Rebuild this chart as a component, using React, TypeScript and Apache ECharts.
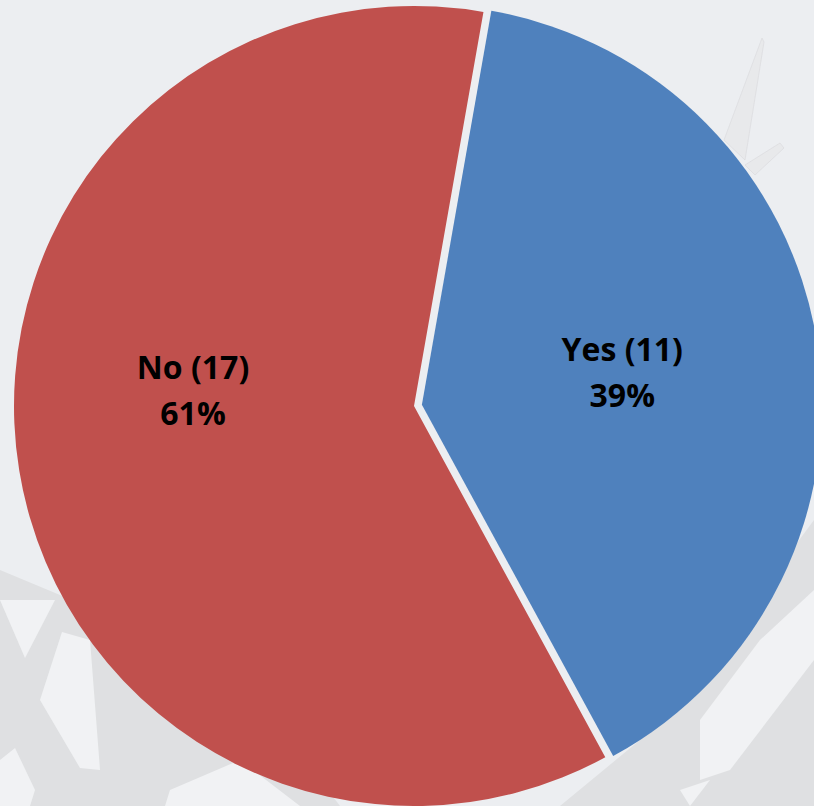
import React, { useEffect, useRef } from "react";
import * as echarts from "echarts";

const categories = ["Yes", "No"];
const counts = [11, 17];
const colors = ["#4F81BD", "#C0504D"];

export default function App() {
  const ref = useRef<HTMLDivElement>(null);
  useEffect(() => {
    if (!ref.current) return;
    const chart = echarts.init(ref.current, null, { renderer: "svg" });
    const labelPos: Record<number, [number, number]> = { 0: [652, 369], 1: [193, 389] };
    const bgDark = "#dfe0e2";
    const bgLight = "#f1f2f4";
    chart.setOption({
      animation: false,
      backgroundColor: "#eceef1",
      graphic: [
        { type: "polygon", silent: true, z: -10, shape: { points: [[0, 570], [120, 620], [260, 700], [340, 806], [0, 806]] }, style: { fill: bgDark } },
        { type: "polygon", silent: true, z: -9, shape: { points: [[0, 600], [55, 600], [25, 658]] }, style: { fill: bgLight } },
        { type: "polygon", silent: true, z: -9, shape: { points: [[62, 632], [90, 640], [100, 770], [80, 768], [40, 700]] }, style: { fill: bgLight } },
        { type: "polygon", silent: true, z: -9, shape: { points: [[0, 760], [15, 748], [35, 790], [30, 806], [0, 806]] }, style: { fill: bgLight } },
        { type: "polygon", silent: true, z: -9, shape: { points: [[170, 790], [240, 760], [300, 806], [165, 806]] }, style: { fill: bgLight } },
        { type: "polygon", silent: true, z: -10, shape: { points: [[814, 520], [814, 806], [560, 806], [640, 740], [740, 620]] }, style: { fill: bgDark } },
        { type: "polygon", silent: true, z: -9, shape: { points: [[814, 590], [814, 660], [730, 770], [700, 780], [700, 720], [760, 640]] }, style: { fill: bgLight } },
        { type: "polygon", silent: true, z: -9, shape: { points: [[680, 790], [710, 780], [690, 806], [690, 806]] }, style: { fill: bgLight } },
        { type: "polygon", silent: true, z: -9, shape: { points: [[762, 38], [764, 42], [745, 160], [724, 140]] }, style: { fill: "#e8e9eb", stroke: "#d8d9db", lineWidth: 0.6 } },
        { type: "polygon", silent: true, z: -9, shape: { points: [[780, 143], [784, 148], [755, 175], [745, 165]] }, style: { fill: "#e8e9eb", stroke: "#d8d9db", lineWidth: 0.6 } },
      ],
      series: [
        {
          type: "pie",
          center: [414, 406],
          radius: [0, 400],
          startAngle: 80,
          clockwise: true,
          selectedMode: "multiple",
          selectedOffset: 8,
          percentPrecision: 0,
          emphasis: { disabled: true },
          itemStyle: { borderWidth: 0 },
          label: {
            show: true,
            position: "inside",
            formatter: "{b} ({c})\n{d}%",
            fontFamily: "Open Sans",
            fontWeight: "bold",
            fontSize: 32,
            lineHeight: 46,
            color: "#000000",
            align: "center",
            verticalAlign: "middle",
          },
          labelLine: { show: false },
          labelLayout: (p: any) => {
            const pos = labelPos[p.dataIndex];
            return { x: pos[0], y: pos[1], align: "center", verticalAlign: "middle" };
          },
          data: categories.map((c, i) => ({
            name: c,
            value: counts[i],
            selected: i === 0,
            itemStyle: { color: colors[i] },
          })),
        },
      ],
    });
    return () => chart.dispose();
  }, []);
  return (
    <div
      ref={ref}
      style={{ position: "fixed", left: 0, top: 0, width: 814, height: 806 }}
    />
  );
}
